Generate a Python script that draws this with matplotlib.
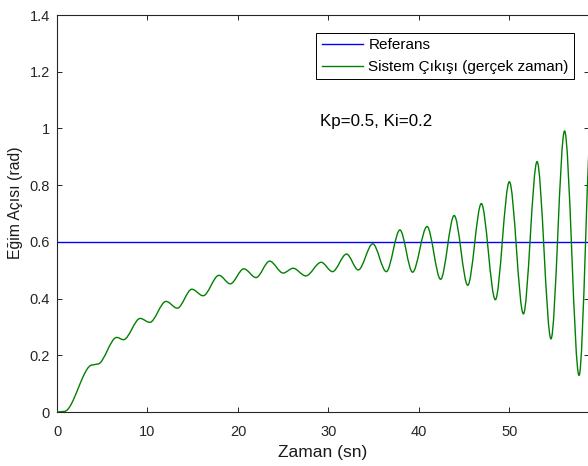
import numpy as np
import matplotlib.pyplot as plt
from matplotlib.path import Path
from matplotlib.patches import PathPatch
from matplotlib.lines import Line2D
from matplotlib.ticker import FuncFormatter

plt.rcParams['font.family'] = ['Liberation Sans', 'DejaVu Sans']

# reference (setpoint)
ref_t = [0.0, 58.8]
ref_v = [0.6, 0.6]

# system output: turning points (time in s, angle in rad)
out_t = [0.0, 0.8, 3.9, 4.5, 6.6, 7.35, 9.2, 10.25, 12.05, 13.3, 14.9, 16.15,
         17.9, 19.15, 20.65, 22.0, 23.5, 25.0, 26.1, 27.5, 29.2, 30.45, 32.0,
         33.3, 34.9, 36.4, 37.9, 39.3, 40.9, 42.4, 43.9, 45.4, 46.9, 48.45,
         50.0, 51.55, 53.06, 54.6, 56.1, 57.7, 59.15]
out_v = [0.0, 0.002, 0.166, 0.169, 0.263, 0.255, 0.33, 0.316, 0.39, 0.366,
         0.433, 0.41, 0.482, 0.452, 0.505, 0.474, 0.532, 0.49, 0.507, 0.48,
         0.528, 0.495, 0.557, 0.501, 0.593, 0.495, 0.642, 0.493, 0.654, 0.468,
         0.693, 0.447, 0.735, 0.396, 0.812, 0.346, 0.883, 0.258, 0.991, 0.129,
         1.08]

xticks = [0, 10, 20, 30, 40, 50]
yticks = [0, 0.2, 0.4, 0.6, 0.8, 1.0, 1.2, 1.4]

BLUE = "#0000ff"
GREEN = "#008000"
GREY = "0.15"


def smooth_path(t, v):
    # cubic segments with flat tangents at each turning point
    verts = [(t[0], v[0])]
    codes = [Path.MOVETO]
    for i in range(len(t) - 1):
        dt = t[i + 1] - t[i]
        verts += [(t[i] + dt / 3, v[i]), (t[i + 1] - dt / 3, v[i + 1]),
                  (t[i + 1], v[i + 1])]
        codes += [Path.CURVE4] * 3
    return Path(verts, codes)


fig = plt.figure(figsize=(5.88, 4.66), dpi=100)
ax = fig.add_axes([57 / 588, 54 / 466, 532 / 588, 397 / 466])

ax.plot(ref_t, ref_v, color=BLUE, lw=1.0, zorder=2)
ax.add_patch(PathPatch(smooth_path(out_t, out_v), fill=False,
                       edgecolor=GREEN, lw=1.0, zorder=3))

ax.set_xlim(0, 58.8)
ax.set_ylim(0, 1.4)
ax.set_xticks(xticks)
ax.set_yticks(yticks)
ax.yaxis.set_major_formatter(FuncFormatter(lambda y, _: f"{y:g}"))
ax.tick_params(direction="in", top=True, right=True, length=3.6, width=0.7,
               color=GREY, labelcolor=GREY, labelsize=10.5)
ax.tick_params(axis="x", pad=9.5)
ax.tick_params(axis="y", pad=5)
for sp in ax.spines.values():
    sp.set_color(GREY)
    sp.set_linewidth(0.8)

ax.set_xlabel("Zaman (sn)", fontsize=12.5, color="0.1", labelpad=4)
ax.set_ylabel("Eğim Açısı (rad)", fontsize=11.3, color="0.1", labelpad=5)
ax.yaxis.label.set_y(0.527)

ax.text(29.1, 1.01, "Kp=0.5, Ki=0.2", fontsize=12.2, va="baseline", ha="left")

handles = [Line2D([], [], color=BLUE, lw=1.0),
           Line2D([], [], color=GREEN, lw=1.0)]
leg = ax.legend(handles, ["Referans", "Sistem Çıkışı (gerçek zaman)"],
                loc="upper right", bbox_to_anchor=(574 / 588, 1 - 33 / 466),
                bbox_transform=fig.transFigure, borderaxespad=0,
                fontsize=11, fancybox=False, framealpha=1,
                edgecolor="black", handlelength=2.7, handletextpad=0.35,
                borderpad=0.35, labelspacing=0.5)
leg.get_frame().set_linewidth(0.7)

fig.savefig("out.png", dpi=100, facecolor="white")
